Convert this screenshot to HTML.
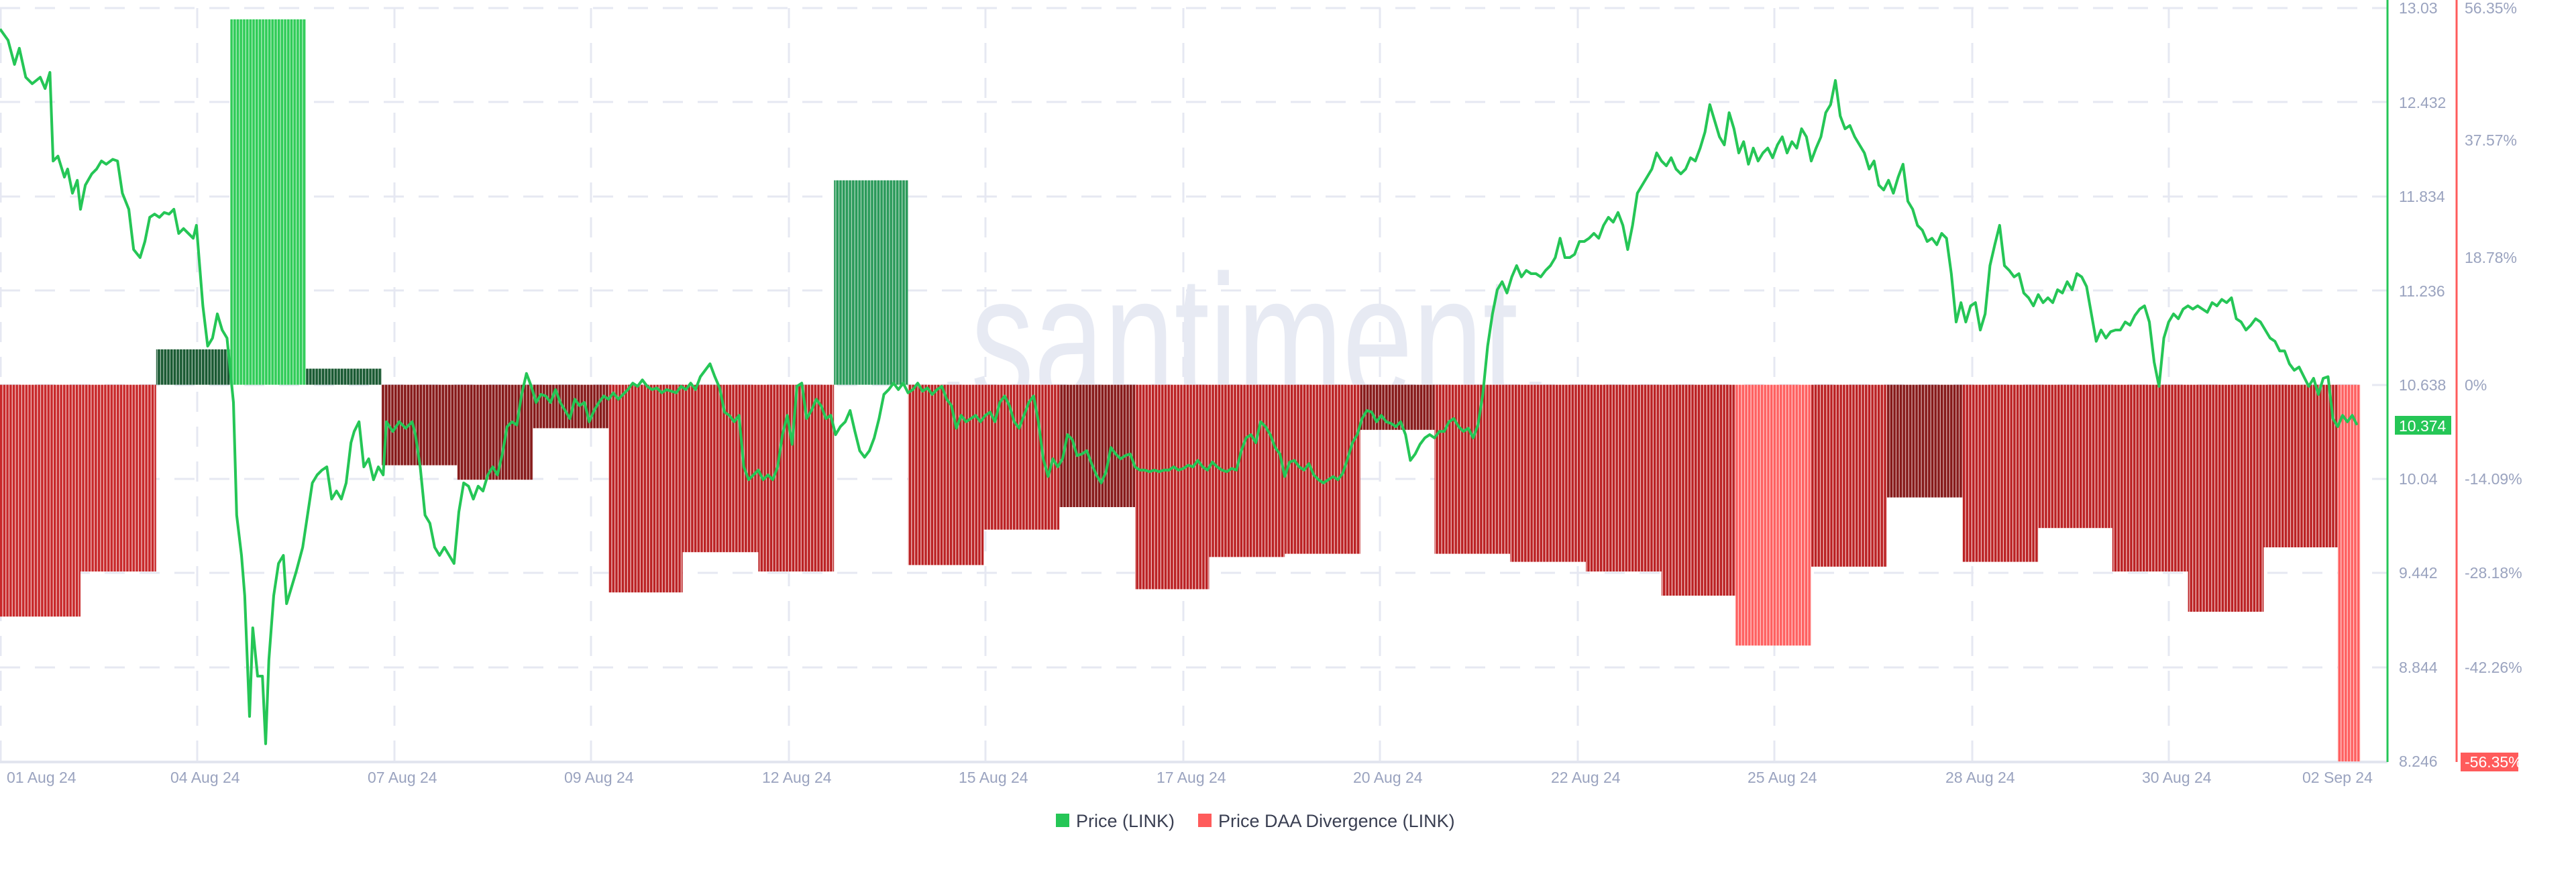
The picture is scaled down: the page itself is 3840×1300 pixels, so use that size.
<!DOCTYPE html>
<html><head><meta charset="utf-8"><style>
html,body{margin:0;padding:0;background:#fff;}
body{width:3840px;height:1300px;overflow:hidden;position:relative;font-family:"Liberation Sans",sans-serif;}
svg{position:absolute;left:0;top:0;}
</style></head><body>
<svg width="3840" height="1300" viewBox="0 0 3840 1300" xmlns="http://www.w3.org/2000/svg">
<defs>
<pattern id="pN" width="1.96" height="10" patternUnits="userSpaceOnUse"><rect width="1.96" height="10" fill="#f3c9c9"/><rect width="1.45" height="10" fill="#bb2224"/></pattern>
<pattern id="pR" width="1.96" height="10" patternUnits="userSpaceOnUse"><rect width="1.96" height="10" fill="#f3c9c9"/><rect width="1.45" height="10" fill="#c8292b"/></pattern>
<pattern id="pD" width="1.96" height="10" patternUnits="userSpaceOnUse"><rect width="1.96" height="10" fill="#d9b0b0"/><rect width="1.45" height="10" fill="#861a1a"/></pattern>
<pattern id="pL" width="1.96" height="10" patternUnits="userSpaceOnUse"><rect width="1.96" height="10" fill="#ffd0d0"/><rect width="1.45" height="10" fill="#ff6060"/></pattern>
<pattern id="pG1" width="1.96" height="10" patternUnits="userSpaceOnUse"><rect width="1.96" height="10" fill="#a9c2b1"/><rect width="1.45" height="10" fill="#1a5a33"/></pattern>
<pattern id="pG2" width="1.96" height="10" patternUnits="userSpaceOnUse"><rect width="1.96" height="10" fill="#b8f0c6"/><rect width="1.45" height="10" fill="#30cc58"/></pattern>
<pattern id="pG3" width="1.96" height="10" patternUnits="userSpaceOnUse"><rect width="1.96" height="10" fill="#b0d9bf"/><rect width="1.45" height="10" fill="#2a9a5a"/></pattern>
</defs>
<!-- grid -->
<g stroke="#e6e8f2" stroke-width="3" stroke-dasharray="30,22">
<line x1="0" y1="12" x2="3559" y2="12"/><line x1="0" y1="152" x2="3559" y2="152"/><line x1="0" y1="293" x2="3559" y2="293"/><line x1="0" y1="433" x2="3559" y2="433"/><line x1="0" y1="574" x2="3559" y2="574"/><line x1="0" y1="714" x2="3559" y2="714"/><line x1="0" y1="854" x2="3559" y2="854"/><line x1="0" y1="995" x2="3559" y2="995"/>
<line x1="1" y1="12" x2="1" y2="1135"/><line x1="294" y1="12" x2="294" y2="1135"/><line x1="588" y1="12" x2="588" y2="1135"/><line x1="881" y1="12" x2="881" y2="1135"/><line x1="1176" y1="12" x2="1176" y2="1135"/><line x1="1469" y1="12" x2="1469" y2="1135"/><line x1="1764" y1="12" x2="1764" y2="1135"/><line x1="2057" y1="12" x2="2057" y2="1135"/><line x1="2352" y1="12" x2="2352" y2="1135"/><line x1="2645" y1="12" x2="2645" y2="1135"/><line x1="2940" y1="12" x2="2940" y2="1135"/><line x1="3233" y1="12" x2="3233" y2="1135"/>
</g>
<line x1="0" y1="1136" x2="3559" y2="1136" stroke="#e2e5ef" stroke-width="4"/>
<!-- watermark -->
<text x="1395" y="598" font-size="270" fill="#e7eaf3" textLength="920" lengthAdjust="spacingAndGlyphs" font-family="Liberation Sans,sans-serif">.santiment.</text>
<!-- bars -->
<g transform="scale(2.4)">
<rect x="0" y="239" width="50" height="144" fill="url(#pR)"/>
<rect x="50" y="239" width="47" height="116" fill="url(#pR)"/>
<rect x="97" y="217" width="46" height="22" fill="url(#pG1)"/>
<rect x="143" y="12" width="47" height="227" fill="url(#pG2)"/>
<rect x="190" y="229" width="47" height="10" fill="url(#pG1)"/>
<rect x="237" y="239" width="47" height="50" fill="url(#pD)"/>
<rect x="284" y="239" width="47" height="59" fill="url(#pD)"/>
<rect x="331" y="239" width="47" height="27" fill="url(#pD)"/>
<rect x="378" y="239" width="46" height="129" fill="url(#pN)"/>
<rect x="424" y="239" width="47" height="104" fill="url(#pN)"/>
<rect x="471" y="239" width="47" height="116" fill="url(#pN)"/>
<rect x="518" y="112" width="46" height="127" fill="url(#pG3)"/>
<rect x="564" y="239" width="47" height="112" fill="url(#pN)"/>
<rect x="611" y="239" width="47" height="90" fill="url(#pN)"/>
<rect x="658" y="239" width="47" height="76" fill="url(#pD)"/>
<rect x="705" y="239" width="46" height="127" fill="url(#pN)"/>
<rect x="751" y="239" width="47" height="107" fill="url(#pN)"/>
<rect x="798" y="239" width="47" height="105" fill="url(#pN)"/>
<rect x="845" y="239" width="46" height="28" fill="url(#pD)"/>
<rect x="891" y="239" width="47" height="105" fill="url(#pN)"/>
<rect x="938" y="239" width="47" height="110" fill="url(#pN)"/>
<rect x="985" y="239" width="47" height="116" fill="url(#pN)"/>
<rect x="1032" y="239" width="46" height="131" fill="url(#pN)"/>
<rect x="1078" y="239" width="47" height="162" fill="url(#pL)"/>
<rect x="1125" y="239" width="47" height="113" fill="url(#pN)"/>
<rect x="1172" y="239" width="47" height="70" fill="url(#pD)"/>
<rect x="1219" y="239" width="47" height="110" fill="url(#pN)"/>
<rect x="1266" y="239" width="46" height="89" fill="url(#pN)"/>
<rect x="1312" y="239" width="47" height="116" fill="url(#pN)"/>
<rect x="1359" y="239" width="47" height="141" fill="url(#pN)"/>
<rect x="1406" y="239" width="46" height="101" fill="url(#pN)"/>
<rect x="1452" y="239" width="14" height="234" fill="url(#pL)"/>
<polyline fill="none" stroke="#25c656" stroke-width="1.7" stroke-linejoin="round" points="0,18 5,25 9,40 12,30 16,48 20,52 25,48 28,55 31,45 33,100 36,97 40,110 42,105 45,120 48,112 50,130 53,115 57,108 60,105 63,100 66,102 70,99 73,100 76,120 80,130 83,155 87,160 90,150 93,135 96,133 99,135 102,132 105,133 108,130 111,145 114,142 117,145 120,148 122,140 124,165 126,190 129,215 132,210 135,195 138,205 141,210 143,230 145,250 147,320 150,345 152,370 155,445 157,390 160,420 163,420 165,462 167,410 170,370 173,350 176,345 178,375 181,365 184,355 188,340 191,320 194,300 197,295 200,292 203,290 206,310 209,305 212,310 215,300 218,275 220,268 223,262 226,290 229,285 232,298 235,290 238,295 240,262 244,268 248,262 252,266 256,262 258,270 261,290 264,320 267,325 270,340 273,345 276,340 279,345 282,350 285,318 288,300 291,302 294,310 297,302 300,305 303,295 306,290 309,295 312,282 315,265 318,262 321,264 324,245 327,232 330,240 333,250 336,245 339,246 342,250 345,242 348,250 351,255 354,260 357,248 360,252 363,250 366,262 369,255 372,250 375,246 378,248 381,244 384,248 387,245 390,242 393,238 396,240 399,236 402,240 405,242 408,241 411,244 414,242 417,243 420,244 423,240 426,242 429,238 432,242 435,234 438,230 441,226 444,234 447,241 450,256 453,258 456,262 459,258 462,290 465,298 468,295 471,292 474,298 477,295 480,298 483,290 486,270 489,258 492,276 495,240 498,238 501,260 504,255 507,248 510,252 513,260 516,258 519,270 522,265 525,262 528,255 531,268 534,280 537,284 540,280 543,272 546,260 549,245 552,242 555,238 558,242 561,238 564,244 567,242 570,238 573,243 576,241 579,245 582,242 585,240 588,248 591,252 594,266 597,258 600,262 603,260 606,258 609,262 612,258 615,256 618,262 621,250 624,246 627,252 630,262 633,266 636,258 639,250 642,246 645,262 648,285 651,296 654,285 657,290 660,285 663,270 666,273 669,283 672,282 675,280 678,288 681,295 684,300 687,293 690,278 693,282 696,285 699,283 702,282 705,290 708,292 711,292 714,293 717,292 720,293 723,292 726,292 729,290 732,292 735,291 738,289 741,290 744,286 747,290 750,292 753,287 756,290 759,292 762,293 765,291 768,292 771,280 774,272 777,270 780,275 783,262 786,265 789,270 792,278 795,282 798,296 801,287 804,286 807,290 810,292 813,288 816,295 819,298 822,300 825,298 828,296 831,298 834,294 837,285 840,275 843,270 846,260 849,255 852,256 855,262 858,258 861,262 864,263 867,265 870,262 873,270 876,286 879,282 882,276 885,272 888,270 891,272 894,268 897,268 900,262 903,260 906,265 909,268 912,266 915,272 918,264 921,245 924,215 927,195 930,180 933,175 936,182 939,172 942,165 945,172 948,168 951,170 954,170 957,172 960,168 963,165 966,160 969,148 972,160 975,160 978,158 981,150 984,150 987,148 990,145 993,148 996,140 999,135 1002,138 1005,132 1008,140 1011,155 1014,140 1017,120 1020,115 1023,110 1026,105 1029,95 1032,100 1035,103 1038,98 1041,105 1044,108 1047,105 1050,98 1053,100 1056,92 1059,82 1062,65 1065,75 1068,85 1071,90 1074,70 1077,80 1080,95 1083,88 1086,102 1089,92 1092,100 1095,95 1098,92 1101,98 1104,90 1107,85 1110,95 1113,88 1116,92 1119,80 1122,85 1125,100 1128,92 1131,85 1134,70 1137,65 1140,50 1143,72 1146,80 1149,78 1152,85 1155,90 1158,95 1161,105 1164,100 1167,115 1170,118 1173,112 1176,120 1179,110 1182,102 1185,125 1188,130 1191,140 1194,143 1197,150 1200,148 1203,152 1206,145 1209,148 1212,170 1215,200 1218,188 1221,200 1224,190 1227,188 1230,205 1233,195 1236,165 1239,152 1242,140 1245,165 1248,168 1251,172 1254,170 1257,182 1260,185 1263,190 1266,183 1269,188 1272,185 1275,188 1278,180 1281,182 1284,175 1287,180 1290,170 1293,172 1296,178 1299,195 1302,212 1305,205 1308,210 1311,206 1314,205 1317,205 1320,200 1323,202 1326,196 1329,192 1332,190 1335,200 1338,225 1341,240 1344,210 1347,200 1350,195 1353,198 1356,192 1359,190 1362,192 1365,190 1368,192 1371,194 1374,188 1377,190 1380,186 1383,188 1386,185 1389,198 1392,200 1395,205 1398,202 1401,198 1404,200 1407,205 1410,210 1413,212 1416,218 1419,218 1422,226 1425,230 1428,228 1431,234 1434,240 1437,235 1440,245 1443,235 1446,234 1449,260 1452,265 1455,258 1458,262 1461,258 1464,264"/>
</g>
<!-- axes -->
<line x1="3559" y1="0" x2="3559" y2="1136" stroke="#25c656" stroke-width="3"/>
<line x1="3662" y1="0" x2="3662" y2="1136" stroke="#ff5b5b" stroke-width="3"/>
<g font-size="23" fill="#9aa3bf" font-family="Liberation Sans,sans-serif">
<text x="3576" y="20">13.03</text><text x="3576" y="161">12.432</text><text x="3576" y="301">11.834</text><text x="3576" y="442">11.236</text><text x="3576" y="582">10.638</text><text x="3576" y="722">10.04</text><text x="3576" y="862">9.442</text><text x="3576" y="1003">8.844</text><text x="3576" y="1143">8.246</text>
<text x="3674" y="20">56.35%</text><text x="3674" y="217">37.57%</text><text x="3674" y="392">18.78%</text><text x="3674" y="582">0%</text><text x="3674" y="722">-14.09%</text><text x="3674" y="862">-28.18%</text><text x="3674" y="1003">-42.26%</text>
</g>
<rect x="3570" y="620" width="84" height="28" fill="#25c656"/>
<text x="3576" y="643" font-size="23" fill="#fff">10.374</text>
<rect x="3668" y="1122" width="86" height="28" fill="#ff5b5b"/>
<text x="3674" y="1144" font-size="23" fill="#fff">-56.35%</text>
<g font-size="23" fill="#9aa3bf">
<text x="10" y="1167">01 Aug 24</text><text x="254" y="1167">04 Aug 24</text><text x="548" y="1167">07 Aug 24</text><text x="841" y="1167">09 Aug 24</text><text x="1136" y="1167">12 Aug 24</text><text x="1429" y="1167">15 Aug 24</text><text x="1724" y="1167">17 Aug 24</text><text x="2017" y="1167">20 Aug 24</text><text x="2312" y="1167">22 Aug 24</text><text x="2605" y="1167">25 Aug 24</text><text x="2900" y="1167">28 Aug 24</text><text x="3193" y="1167">30 Aug 24</text><text x="3432" y="1167">02 Sep 24</text>
</g>
<rect x="1574" y="1213" width="20" height="20" fill="#25c656"/>
<text x="1604" y="1233" font-size="27" fill="#3a3f52">Price (LINK)</text>
<rect x="1786" y="1213" width="20" height="20" fill="#ff5b5b"/>
<text x="1816" y="1233" font-size="27" fill="#3a3f52">Price DAA Divergence (LINK)</text>
</svg>
</body></html>
